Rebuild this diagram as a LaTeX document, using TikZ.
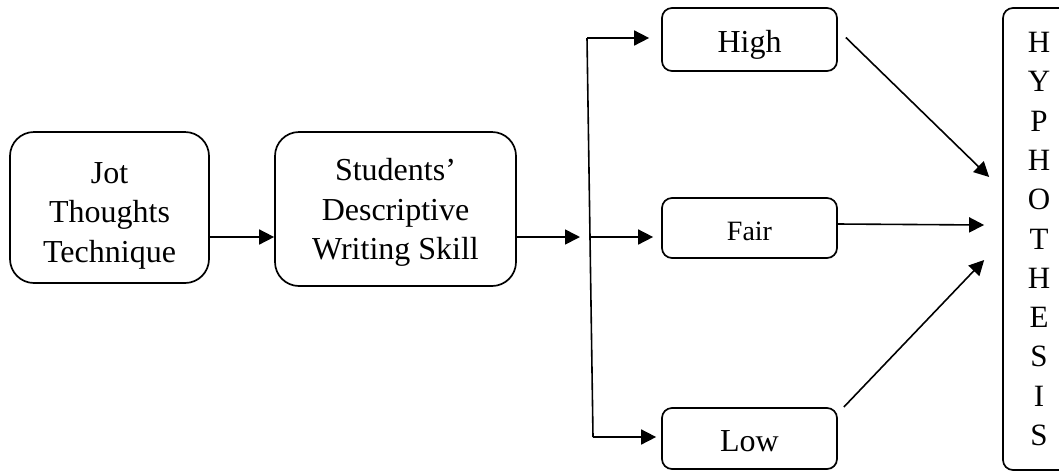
\documentclass[tikz,border=0pt]{standalone}
\usepackage{fontspec}
\setmainfont{Liberation Serif}
\usetikzlibrary{arrows.meta,calc}
\begin{document}
\begin{tikzpicture}[x=1pt,y=-1pt,
  box/.style={draw,line width=1.7pt,align=center,inner sep=0pt,font=\fontsize{32}{39.5}\selectfont},
  bigbox/.style={box,rounded corners=24pt,text depth=7pt},
  smallbox/.style={box,rounded corners=10pt,minimum width=175pt,text height=30pt,text depth=5pt},
  arr/.style={line width=1.6pt,-{Triangle[length=15pt,width=15pt]}},
  ln/.style={line width=1.6pt}]
\useasboundingbox (0,0) rectangle (1059,472);
\node[bigbox,minimum width=199pt,minimum height=151pt,text height=116pt] (jot) at (109.5,207.5) {Jot\\Thoughts\\Technique};
\node[bigbox,minimum width=241pt,minimum height=154pt,text height=108pt] (stu) at (395.5,209) {Students’\\Descriptive\\Writing Skill};
\node[smallbox,minimum height=63pt] (high) at (749.5,39.5) {High};
\node[smallbox,minimum height=60pt,font=\fontsize{28}{34}\selectfont] (fair) at (749.5,228) {Fair};
\node[smallbox,minimum height=61pt] (low) at (749.5,438.5) {Low};
\node[box,rounded corners=10pt,minimum width=72pt,minimum height=462pt,font=\fontsize{31}{39.3}\selectfont] (hyp) at (1039,239) {H\\Y\\P\\H\\O\\T\\H\\E\\S\\I\\S};
\coordinate (yA) at (0,237);
\coordinate (sp) at (580,237);
\coordinate (vt) at (587,38);
\coordinate (vm) at (590,237);
\coordinate (vb) at (593,437);
\draw[arr] (jot.east |- yA) -- (stu.west |- yA);
\draw[arr] (stu.east |- sp) -- (sp);
\draw[ln] (vt) -- (vb);
\draw[arr,shorten >=12pt] (vt) -- (vt -| high.west);
\draw[arr,shorten >=8pt] (vm) -- (vm -| fair.west);
\draw[arr,shorten >=5pt] (vb) -- (vb -| low.west);
\draw[arr] ($(high.east)+(8,-2)$) -- ($(hyp.west)+(-13,-62)$);
\draw[arr] ($(fair.east)+(0,-4)$) -- ($(hyp.west)+(-18,-14)$);
\draw[arr] ($(low.east)+(6,-31.5)$) -- ($(hyp.west)+(-18,21)$);
\end{tikzpicture}
\end{document}
